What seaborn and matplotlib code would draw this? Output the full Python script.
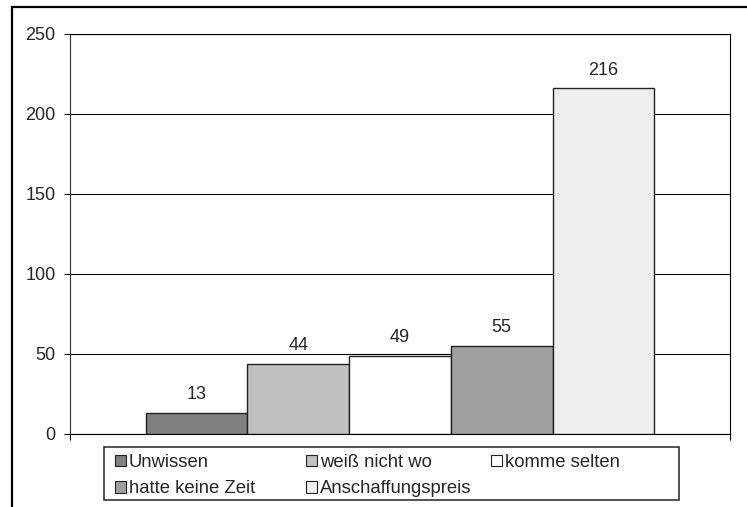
import numpy as np
import pandas as pd
import matplotlib
matplotlib.use("Agg")
import matplotlib.pyplot as plt
from matplotlib.patches import Rectangle
import seaborn as sns

# data
labels = ["Unwissen", "weiß nicht wo", "komme selten", "hatte keine Zeit", "Anschaffungspreis"]
values = [13, 44, 49, 55, 216]
colors = ["#808080", "#c0c0c0", "#ffffff", "#a0a0a0", "#eeeeee"]
yticks = [0, 50, 100, 150, 200, 250]

df = pd.DataFrame({"grp": ["x"] * len(labels), "label": labels, "value": values})

sns.set_style("white")
plt.rcParams["font.family"] = ["Liberation Sans", "DejaVu Sans"]
plt.rcParams["font.size"] = 13

fig = plt.figure(figsize=(7.47, 5.07), dpi=100)
ax = fig.add_axes([70 / 747, 1 - 434 / 507, 660 / 747, 400 / 507])

sns.barplot(data=df, x="grp", y="value", hue="label", hue_order=labels,
            palette=colors, width=0.771, gap=0, edgecolor="#222222",
            linewidth=1.0, legend=False, ax=ax, zorder=3)

for c in ax.containers:
    ax.bar_label(c, padding=7, fontsize=13)

ax.set_xlim(-0.5, 0.5)
ax.set_ylim(0, 250)
ax.set_yticks(yticks)
ax.set_xticks([-0.5, 0.5])
ax.set_xticklabels(["", ""])
ax.set_xlabel("")
ax.set_ylabel("")
ax.yaxis.grid(True, color="#000000", linewidth=0.8, zorder=0)
ax.set_axisbelow(True)
ax.tick_params(axis="both", direction="out", length=4.5, width=0.8, color="black",
               left=True, bottom=True, labelsize=13, pad=6)
for s in ax.spines.values():
    s.set_color("black")
    s.set_linewidth(0.8)
    s.set_visible(True)
ax.spines["left"].set_color("#333333")

# legend: Excel-style fixed columns, filled row by row
legend_cols = [[0, 3], [1, 4], [2]]
col_x = [115, 306, 491]
for idx, xpix in zip(legend_cols, col_x):
    hs = [Rectangle((0, 0), 1, 1, facecolor=colors[i], edgecolor="#222222", linewidth=0.8)
          for i in idx]
    fig.legend(hs, [labels[i] for i in idx], loc="upper left",
               bbox_to_anchor=(xpix / 747, 1 - 454 / 507),
               frameon=False, fontsize=13.3, handlelength=0.62, handleheight=0.62,
               handletextpad=0.12, borderpad=0, labelspacing=0.5, borderaxespad=0)

# legend frame
fig.patches.append(Rectangle((104 / 747, 7 / 507), 575 / 747, 53 / 507,
                             transform=fig.transFigure, fill=False,
                             edgecolor="#333333", linewidth=1.2))

# outer chart frame
fig.patches.append(Rectangle((12 / 747, -0.1), 1.0, 0.1 + (507 - 7) / 507,
                             transform=fig.transFigure, fill=False,
                             edgecolor="black", linewidth=1.6))

fig.savefig("out.png", dpi=100)
